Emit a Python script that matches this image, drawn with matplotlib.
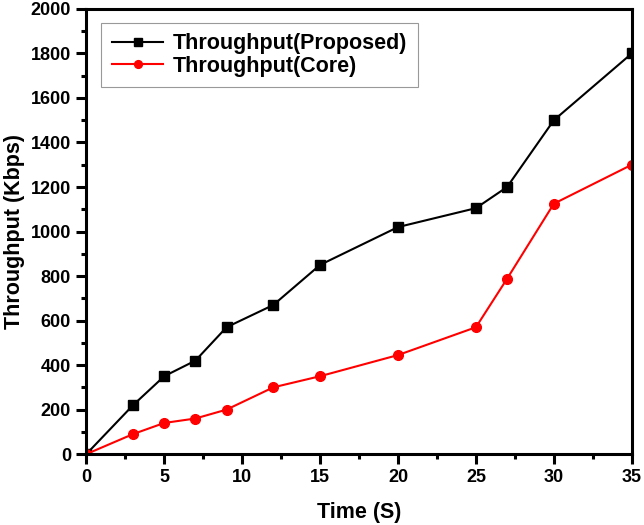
import matplotlib
matplotlib.use("Agg")
import matplotlib.pyplot as plt
from matplotlib.ticker import MultipleLocator

plt.rcParams['font.family'] = ['Liberation Sans', 'DejaVu Sans']
plt.rcParams['font.weight'] = 'bold'

time = [0, 3, 5, 7, 9, 12, 15, 20, 25, 27, 30, 35]
proposed = [0, 220, 350, 420, 570, 670, 850, 1020, 1105, 1200, 1500, 1800]
core = [0, 90, 140, 160, 200, 300, 350, 445, 570, 788, 1125, 1300]

fig = plt.figure(figsize=(6.44, 5.25), dpi=100)
ax = fig.add_axes([0.134, 0.135, 0.847, 0.848])

ax.plot(time, proposed, color="black", marker="s", markersize=6.5, linewidth=1.5,
        label="Throughput(Proposed)")
ax.plot(time, core, color="red", marker="o", markersize=7, linewidth=1.5,
        label="Throughput(Core)")

ax.set_xlim(0, 35)
ax.set_ylim(0, 2000)
ax.xaxis.set_major_locator(MultipleLocator(5))
ax.xaxis.set_minor_locator(MultipleLocator(2.5))
ax.yaxis.set_major_locator(MultipleLocator(200))
ax.yaxis.set_minor_locator(MultipleLocator(100))
ax.tick_params(which="major", direction="out", length=7, width=2.2, labelsize=13, pad=4)
ax.tick_params(which="minor", direction="out", length=3.5, width=2.2)
for s in ax.spines.values():
    s.set_linewidth(2.2)

ax.set_xlabel("Time (S)", fontsize=15.5, fontweight="bold", labelpad=11)
ax.set_ylabel("Throughput (Kbps)", fontsize=15.5, fontweight="bold", labelpad=4)

leg = ax.legend(loc="upper left", bbox_to_anchor=(0.027, 0.969), fontsize=15.5,
                frameon=True, fancybox=False, edgecolor="gray",
                handlelength=2.4, handletextpad=0.45, borderpad=0.5,
                labelspacing=0.05, markerscale=0.8, borderaxespad=0)
leg.get_frame().set_linewidth(0.8)

fig.savefig("out.png", dpi=100)
